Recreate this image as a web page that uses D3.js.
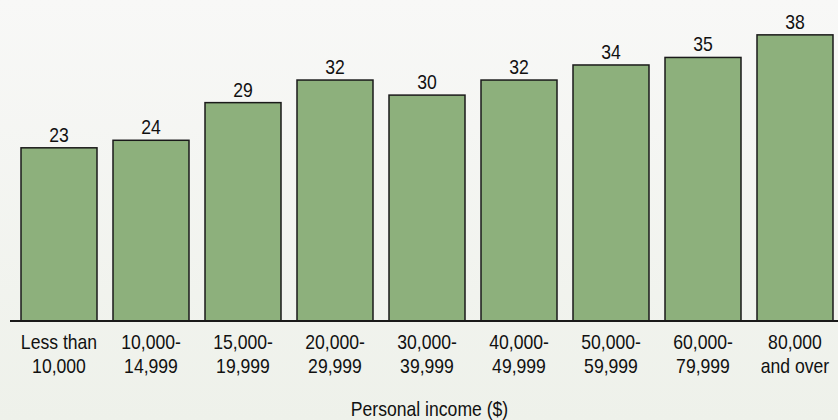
<!DOCTYPE html>
<html>
<head>
<meta charset="utf-8">
<script src="https://cdn.jsdelivr.net/npm/d3@7"></script>
<style>
  html, body { margin: 0; padding: 0; }
  body { width: 838px; height: 420px; overflow: hidden; }
  svg { display: block; }
  text { font-family: "Liberation Sans", Arial, sans-serif; fill: #111; }
</style>
</head>
<body>
<svg id="chart" width="838" height="420"></svg>
<script>
// Income brackets (two-line labels) and the value shown above each bar
const categories = [
  ["Less than", "10,000"],
  ["10,000-", "14,999"],
  ["15,000-", "19,999"],
  ["20,000-", "29,999"],
  ["30,000-", "39,999"],
  ["40,000-", "49,999"],
  ["50,000-", "59,999"],
  ["60,000-", "79,999"],
  ["80,000", "and over"]
];
const values = [23, 24, 29, 32, 30, 32, 34, 35, 38];
const axisTitle = "Personal income ($)";

const W = 838, H = 420;
const FONT = 20;
const NARROW = 0.88; // horizontal squeeze for a condensed look
const svg = d3.select("#chart");

// soft vertical background gradient
const defs = svg.append("defs");
const grad = defs.append("linearGradient")
  .attr("id", "bg").attr("x1", 0).attr("y1", 0).attr("x2", 0).attr("y2", 1);
grad.append("stop").attr("offset", "0%").attr("stop-color", "#f8f8f7");
grad.append("stop").attr("offset", "100%").attr("stop-color", "#eef1ea");
svg.append("rect").attr("width", W).attr("height", H).attr("fill", "url(#bg)");

const baseline = 321;
const x = d3.scaleBand()
  .domain(d3.range(categories.length))
  .range([5, 849])
  .paddingInner(16 / 92)
  .paddingOuter(16 / 92);

const y = d3.scaleLinear().domain([0, 42.5]).range([baseline, baseline - 42.5 * 7.53]);

const cx = i => x(i) + x.bandwidth() / 2;
const place = (px, py) => `translate(${px},${py}) scale(${NARROW},1)`;

// bars
svg.append("g").selectAll("rect")
  .data(values)
  .join("rect")
  .attr("x", (d, i) => x(i))
  .attr("y", d => y(d))
  .attr("width", x.bandwidth())
  .attr("height", d => baseline - y(d))
  .attr("fill", "#8db07c")
  .attr("stroke", "#1a1a1a")
  .attr("stroke-width", 1.5);

// value labels
svg.append("g").selectAll("text")
  .data(values)
  .join("text")
  .attr("transform", (d, i) => place(cx(i), y(d) - 6))
  .attr("text-anchor", "middle")
  .attr("font-size", FONT)
  .text(d => d);

// baseline
svg.append("line")
  .attr("x1", 10).attr("x2", W)
  .attr("y1", baseline).attr("y2", baseline)
  .attr("stroke", "#1a1a1a").attr("stroke-width", 2);

// two-line category labels
const lab = svg.append("g").selectAll("text")
  .data(categories)
  .join("text")
  .attr("text-anchor", "middle")
  .attr("font-size", FONT)
  .attr("transform", (d, i) => place(cx(i), 349));
lab.append("tspan").attr("x", 0).attr("y", 0).text(d => d[0]);
lab.append("tspan").attr("x", 0).attr("y", 24).text(d => d[1]);

// axis title
svg.append("text")
  .attr("transform", place(429.5, 416))
  .attr("text-anchor", "middle")
  .attr("font-size", FONT)
  .text(axisTitle);
</script>
</body>
</html>
